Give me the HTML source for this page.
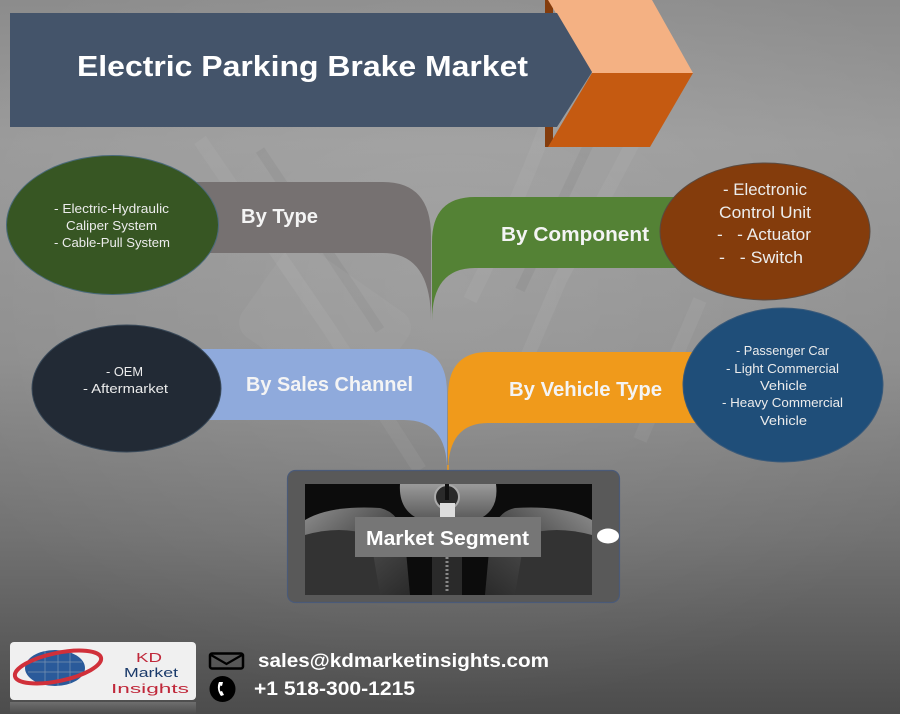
<!DOCTYPE html>
<html><head><meta charset="utf-8"><style>
html,body{margin:0;padding:0;background:#888;}
svg{display:block;}
text{font-family:"Liberation Sans",Arial,sans-serif;}
</style></head><body>
<svg width="900" height="714" viewBox="0 0 900 714" xmlns="http://www.w3.org/2000/svg">
<defs>
<linearGradient id="bg" x1="0" y1="0" x2="0" y2="1">
<stop offset="0" stop-color="#8c8c8c"/>
<stop offset="0.2" stop-color="#9a9a9a"/>
<stop offset="0.5" stop-color="#8e8e8e"/>
<stop offset="0.75" stop-color="#727272"/>
<stop offset="1" stop-color="#4c4c4c"/>
</linearGradient>
<radialGradient id="hl" cx="0.5" cy="0.4" r="0.6">
<stop offset="0" stop-color="#ffffff" stop-opacity="0.12"/>
<stop offset="1" stop-color="#ffffff" stop-opacity="0"/>
</radialGradient>
<linearGradient id="seatL" x1="0" y1="0" x2="1" y2="1">
<stop offset="0" stop-color="#8e8e8e"/>
<stop offset="0.5" stop-color="#4a4a4a"/>
<stop offset="1" stop-color="#2a2a2a"/>
</linearGradient>
<linearGradient id="seatR" x1="1" y1="0" x2="0" y2="1">
<stop offset="0" stop-color="#8e8e8e"/>
<stop offset="0.5" stop-color="#4a4a4a"/>
<stop offset="1" stop-color="#2a2a2a"/>
</linearGradient>
<linearGradient id="cons" x1="0" y1="0" x2="0" y2="1">
<stop offset="0" stop-color="#9a9a9a"/>
<stop offset="1" stop-color="#555"/>
</linearGradient>
<linearGradient id="refl" x1="0" y1="0" x2="0" y2="1">
<stop offset="0" stop-color="#ffffff" stop-opacity="0.18"/>
<stop offset="1" stop-color="#ffffff" stop-opacity="0"/>
</linearGradient>
<clipPath id="photo"><rect x="305" y="484" width="287" height="111"/></clipPath>
</defs>

<!-- background -->
<rect width="900" height="714" fill="url(#bg)"/>
<rect width="900" height="714" fill="url(#hl)"/>
<g fill="none" stroke="#ffffff" stroke-opacity="0.05" stroke-width="14">
<path d="M200,140 L330,330 L420,470"/>
<path d="M560,90 Q520,200 470,300"/>
<path d="M640,130 L560,280 L500,420"/>
<path d="M700,300 L640,440"/>
</g>
<g fill="none" stroke="#000" stroke-opacity="0.04" stroke-width="10">
<path d="M260,150 L380,330"/>
<path d="M600,120 L520,290"/>
</g>
<rect x="250" y="270" width="150" height="110" rx="18" transform="rotate(35 325 325)" fill="#fff" fill-opacity="0.04"/>

<!-- chevron -->
<rect x="545" y="0" width="8" height="147" fill="#843C0C"/>
<polygon points="548,0 652,0 693,73 592,73" fill="#F4B183"/>
<polygon points="592,73 693,73 650,147 548,147" fill="#C55A11"/>
<!-- title banner -->
<polygon points="10,13 557,13 592,72 557,127 10,127" fill="#44546A"/>
<text x="77" y="76" font-size="29" font-weight="bold" fill="#ffffff" textLength="451" lengthAdjust="spacingAndGlyphs">Electric Parking Brake Market</text>

<!-- bands -->
<path d="M190,182 H383 Q431,182 431,236 V321 Q431,253 383,253 H190 Z" fill="#767171"/>
<path d="M432,321 V242 Q432,197 475,197 H700 V268 H475 Q432,268 432,321 Z" fill="#548235"/>
<path d="M200,349 H410 Q447,349 447,393 V470 Q447,420 404,420 H200 Z" fill="#8FAADC"/>
<path d="M448,472 V396 Q448,352 488,352 H710 V423 H488 Q448,423 448,472 Z" fill="#F09A1B"/>
<line x1="448" y1="465" x2="448" y2="476" stroke="#F09A1B" stroke-width="1.5"/>

<!-- ellipses -->
<ellipse cx="112.5" cy="225" rx="106" ry="69.5" fill="#375623" stroke="#4a6a7a" stroke-width="1"/>
<ellipse cx="765" cy="231.5" rx="105" ry="68.5" fill="#843C0C" stroke="#5a4a40" stroke-width="1"/>
<ellipse cx="126.5" cy="388.5" rx="94.5" ry="63.5" fill="#222A35" stroke="#3a4a5a" stroke-width="1"/>
<ellipse cx="783" cy="385" rx="100" ry="77" fill="#1F4E79" stroke="#3a5a7a" stroke-width="1"/>

<!-- band labels -->
<g font-weight="bold" font-size="20" fill="#f4f4f4">
<text x="241" y="223" textLength="77" lengthAdjust="spacingAndGlyphs">By Type</text>
<text x="501" y="241" textLength="148" lengthAdjust="spacingAndGlyphs">By Component</text>
<text x="246" y="391" textLength="167" lengthAdjust="spacingAndGlyphs">By Sales Channel</text>
<text x="509" y="396" textLength="153" lengthAdjust="spacingAndGlyphs">By Vehicle Type</text>
</g>

<!-- ellipse texts -->
<g fill="#ececec" font-size="12.5">
<text x="54" y="213" textLength="115" lengthAdjust="spacingAndGlyphs">- Electric-Hydraulic</text>
<text x="66" y="230" textLength="91" lengthAdjust="spacingAndGlyphs">Caliper System</text>
<text x="54" y="247" textLength="116" lengthAdjust="spacingAndGlyphs">- Cable-Pull System</text>
<text x="106" y="376" textLength="37" lengthAdjust="spacingAndGlyphs">- OEM</text>
<text x="83" y="393" textLength="85" lengthAdjust="spacingAndGlyphs">- Aftermarket</text>
</g>
<g fill="#ececec" font-size="16.5">
<text x="723" y="195" textLength="84" lengthAdjust="spacingAndGlyphs">- Electronic</text>
<text x="719" y="218" textLength="92" lengthAdjust="spacingAndGlyphs">Control Unit</text>
<text x="717" y="240" textLength="94" lengthAdjust="spacingAndGlyphs" xml:space="preserve">-   - Actuator</text>
<text x="719" y="263" textLength="84" lengthAdjust="spacingAndGlyphs" xml:space="preserve">-   - Switch</text>
</g>
<g fill="#ececec" font-size="13">
<text x="736" y="355" textLength="93" lengthAdjust="spacingAndGlyphs">- Passenger Car</text>
<text x="726" y="373" textLength="113" lengthAdjust="spacingAndGlyphs">- Light Commercial</text>
<text x="760" y="390" textLength="47" lengthAdjust="spacingAndGlyphs">Vehicle</text>
<text x="722" y="407" textLength="121" lengthAdjust="spacingAndGlyphs">- Heavy Commercial</text>
<text x="760" y="425" textLength="47" lengthAdjust="spacingAndGlyphs">Vehicle</text>
</g>

<!-- phone / market segment -->
<rect x="287.5" y="470.5" width="332" height="132" rx="8" fill="#595959" stroke="#4a5a78" stroke-width="1.2"/>
<g clip-path="url(#photo)">
<rect x="305" y="484" width="287" height="111" fill="#0c0c0c"/>
<path d="M305,520 Q330,505 380,508 Q400,512 405,540 L410,595 L305,595 Z" fill="url(#seatL)"/>
<path d="M305,535 Q340,525 370,535 L380,595 L305,595 Z" fill="#333"/>
<path d="M592,520 Q565,505 515,508 Q495,512 490,540 L485,595 L592,595 Z" fill="url(#seatR)"/>
<path d="M592,535 Q555,525 525,535 L515,595 L592,595 Z" fill="#333"/>
<path d="M400,484 L496,484 Q500,515 470,522 L428,522 Q398,515 400,484 Z" fill="url(#cons)"/>
<circle cx="447" cy="497" r="12" fill="#2a2a2a" stroke="#aaa" stroke-width="2"/>
<rect x="440" y="503" width="15" height="14" fill="#ddd"/>
<line x1="447" y1="484" x2="447" y2="500" stroke="#111" stroke-width="4"/>
<rect x="432" y="555" width="30" height="40" fill="#2a2a2a"/>
<line x1="447" y1="557" x2="447" y2="592" stroke="#888" stroke-width="3" stroke-dasharray="2,2"/>
</g>
<rect x="355" y="517" width="186" height="40" fill="#767676"/>
<text x="366" y="545" font-size="20" font-weight="bold" fill="#ffffff" textLength="163" lengthAdjust="spacingAndGlyphs">Market Segment</text>
<ellipse cx="608" cy="536" rx="11" ry="7.5" fill="#ffffff"/>

<!-- footer logo -->
<rect x="10" y="642" width="186" height="58" rx="4" fill="#f0f0f0"/>
<rect x="10" y="702" width="186" height="12" fill="url(#refl)"/>
<ellipse cx="55" cy="668" rx="30" ry="18" fill="#2a5a9a"/>
<g stroke="#9ab" stroke-width="0.7" fill="none" opacity="0.7">
<line x1="30" y1="662" x2="82" y2="662"/><line x1="28" y1="672" x2="84" y2="672"/>
<line x1="45" y1="651" x2="45" y2="685"/><line x1="58" y1="650" x2="58" y2="686"/><line x1="70" y1="652" x2="70" y2="684"/>
</g>
<ellipse cx="58" cy="667" rx="44" ry="14" fill="none" stroke="#d0303a" stroke-width="4" transform="rotate(-12 58 667)"/>
<g font-size="13" text-anchor="middle">
<text x="149" y="662" fill="#c0283a" textLength="26" lengthAdjust="spacingAndGlyphs">KD</text>
<text x="151" y="677" fill="#1a3a6a" textLength="54" lengthAdjust="spacingAndGlyphs">Market</text>
<text x="150" y="693" fill="#c0283a" textLength="78" lengthAdjust="spacingAndGlyphs">Insights</text>
</g>

<!-- contact icons -->
<rect x="210" y="653.5" width="33" height="15" rx="2" fill="none" stroke="#000" stroke-width="2.5"/>
<polyline points="211,655 226.5,664 242,655" fill="none" stroke="#000" stroke-width="2.2"/>
<circle cx="222.5" cy="689" r="13" fill="#000"/>
<path d="M219,682 q-3,7 2,14 l3,-1 -2,-4 -1.5,0.5 q-1.5,-3 0,-6 l1.5,0.5 1,-4 z" fill="#fff"/>
<g font-weight="bold" font-size="19" fill="#ffffff">
<text x="258" y="667" textLength="291" lengthAdjust="spacingAndGlyphs">sales@kdmarketinsights.com</text>
<text x="254" y="695" textLength="161" lengthAdjust="spacingAndGlyphs">+1 518-300-1215</text>
</g>
</svg>
</body></html>
